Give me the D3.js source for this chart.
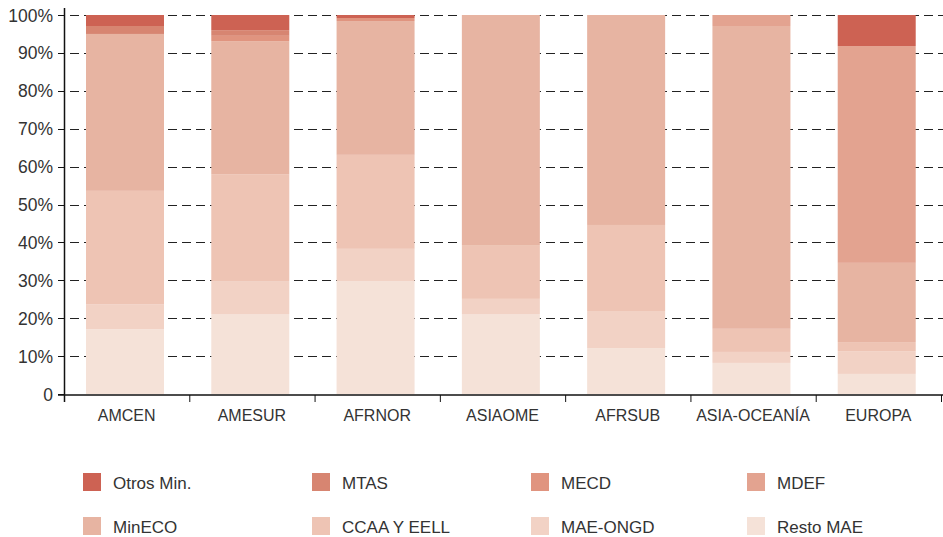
<!DOCTYPE html>
<html>
<head>
<meta charset="utf-8">
<script src="https://cdn.jsdelivr.net/npm/d3@7"></script>
<style>
  body { margin: 0; background: #fff; }
  text { font-family: "Liberation Sans", Arial, sans-serif; fill: #333; }
</style>
</head>
<body>
<div id="chart"></div>
<script>
// Data (percent of each region's total)
const categories = ["AMCEN", "AMESUR", "AFRNOR", "ASIAOME", "AFRSUB", "ASIA-OCEANÍA", "EUROPA"];
const seriesNames = ["Resto MAE", "MAE-ONGD", "CCAA Y EELL", "MinECO", "MDEF", "MECD", "MTAS", "Otros Min."];
const restoMAE = [17.1, 21.1, 29.8, 21.1, 12.1, 8.2, 5.3];
const maeONGD  = [6.6, 8.7, 8.5, 4.0, 9.8, 2.9, 6.0];
const ccaaEELL = [29.9, 28.2, 24.8, 14.2, 22.7, 6.1, 2.4];
const minECO   = [41.4, 35.1, 35.3, 60.7, 55.4, 79.9, 20.9];
const mdef     = [0, 0, 0, 0, 0, 2.9, 57.2];
const mecd     = [0, 1.4, 0.8, 0, 0, 0, 0];
const mtas     = [2.1, 1.5, 0, 0, 0, 0, 0];
const otrosMin = [2.9, 4.0, 0.8, 0, 0, 0, 8.2];
const yTicks = [0, 10, 20, 30, 40, 50, 60, 70, 80, 90, 100];
const legendOrder = ["Otros Min.", "MTAS", "MECD", "MDEF", "MinECO", "CCAA Y EELL", "MAE-ONGD", "Resto MAE"];

const seriesValues = [restoMAE, maeONGD, ccaaEELL, minECO, mdef, mecd, mtas, otrosMin];
const colors = {
  "Resto MAE": "#f5e2d8",
  "MAE-ONGD": "#f2d2c5",
  "CCAA Y EELL": "#eec4b4",
  "MinECO": "#e7b4a2",
  "MDEF": "#e3a390",
  "MECD": "#e0947f",
  "MTAS": "#d78571",
  "Otros Min.": "#cd6253",
};

// Dimensions
const dims = { width: 943, height: 537, left: 64, right: 941, top: 15, bottom: 394 };

const table = categories.map((c, i) => {
  const row = { cat: c };
  seriesNames.forEach((s, j) => (row[s] = seriesValues[j][i]));
  return row;
});
const stacked = d3.stack().keys(seriesNames)(table);

const svg = d3.select("#chart").append("svg").attr("width", dims.width).attr("height", dims.height);

const x = d3.scaleBand().domain(categories).range([dims.left, dims.right]).padding(0);
const y = d3.scaleLinear().domain([0, 100]).range([dims.bottom, dims.top]);

// grid lines
svg.append("g")
  .selectAll("line")
  .data(yTicks.filter((d) => d > 0))
  .join("line")
  .attr("x1", dims.left + 6)
  .attr("x2", dims.width)
  .attr("y1", (d) => Math.round(y(d)) + 0.5)
  .attr("y2", (d) => Math.round(y(d)) + 0.5)
  .attr("stroke", "#222")
  .attr("stroke-dasharray", "9,5");

// bars
const barOffset = 22, barWidth = 78;
svg.append("g")
  .selectAll("g")
  .data(stacked)
  .join("g")
  .attr("fill", (d) => colors[d.key])
  .selectAll("rect")
  .data((d) => d)
  .join("rect")
  .attr("x", (d) => x(d.data.cat) + barOffset)
  .attr("width", barWidth)
  .attr("y", (d) => y(d[1]))
  .attr("height", (d) => y(d[0]) - y(d[1]));

// y axis
const yAxis = svg.append("g");
yAxis.append("line")
  .attr("x1", dims.left + 0.5).attr("x2", dims.left + 0.5)
  .attr("y1", 8).attr("y2", dims.bottom + 8)
  .attr("stroke", "#111").attr("stroke-width", 1.5);
yAxis.selectAll(".tick")
  .data(yTicks)
  .join("line")
  .attr("x1", dims.left - 6).attr("x2", dims.left)
  .attr("y1", (d) => Math.round(y(d)) + 0.5)
  .attr("y2", (d) => Math.round(y(d)) + 0.5)
  .attr("stroke", "#111");
yAxis.selectAll("text")
  .data(yTicks)
  .join("text")
  .attr("x", 53)
  .attr("y", (d) => y(d) + 6.5)
  .attr("text-anchor", "end")
  .style("font-size", "17.5px")
  .text((d) => (d === 0 ? "0" : d + "%"));

// x axis
const xAxis = svg.append("g");
xAxis.append("line")
  .attr("x1", dims.left - 6).attr("x2", dims.width)
  .attr("y1", dims.bottom + 1).attr("y2", dims.bottom + 1)
  .attr("stroke", "#111").attr("stroke-width", 1.5);
xAxis.selectAll(".sep")
  .data(categories.concat(["end"]))
  .join("line")
  .attr("x1", (d, i) => dims.left + i * x.step() + 0.5)
  .attr("x2", (d, i) => dims.left + i * x.step() + 0.5)
  .attr("y1", dims.bottom + 1).attr("y2", dims.bottom + 8)
  .attr("stroke", "#111");
xAxis.selectAll("text")
  .data(categories)
  .join("text")
  .attr("x", (d) => x(d) + x.bandwidth() / 2)
  .attr("y", 421)
  .attr("text-anchor", "middle")
  .style("font-size", "16px")
  .text((d) => d);

// legend
const legendCols = [83, 312, 531, 747];
const legendRows = [473, 517];
const legend = svg.append("g")
  .selectAll("g")
  .data(legendOrder)
  .join("g")
  .attr("transform", (d, i) => `translate(${legendCols[i % 4]}, ${legendRows[Math.floor(i / 4)]})`);
legend.append("rect").attr("width", 18).attr("height", 18).attr("fill", (d) => colors[d]);
legend.append("text").attr("x", 30).attr("y", 16).style("font-size", "17px").text((d) => d);
</script>
</body>
</html>
